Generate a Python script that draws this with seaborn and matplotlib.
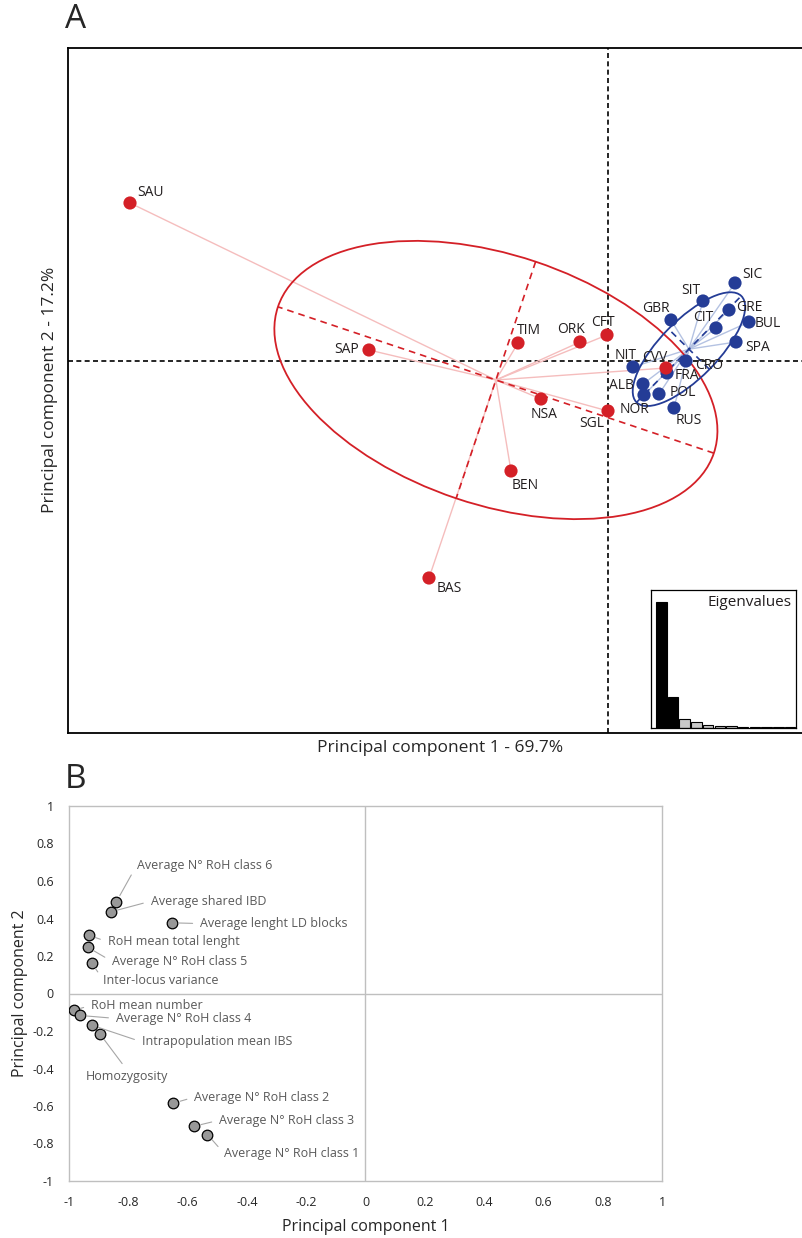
import numpy as np
import pandas as pd
import matplotlib.pyplot as plt
import seaborn as sns
from matplotlib.patches import Ellipse

# ---- panel A: population scores (PC1, PC2) ----
red_pops = ['SAU', 'SAP', 'TIM', 'ORK', 'CFT', 'NSA', 'SGL', 'BEN', 'BAS', 'CVV']
red_pc1 = [-4.78, -2.39, -0.90, -0.28, -0.01, -0.67, 0.00, -0.97, -1.79, 0.58]
red_pc2 = [1.58, 0.11, 0.18, 0.19, 0.26, -0.38, -0.50, -1.10, -2.17, -0.07]

blue_pops = ['SIC', 'SIT', 'GBR', 'CIT', 'GRE', 'BUL', 'SPA', 'NIT', 'CRO', 'FRA',
             'ALB', 'NOR', 'POL', 'RUS']
blue_pc1 = [1.27, 0.95, 0.63, 1.08, 1.21, 1.41, 1.28, 0.25, 0.78, 0.59, 0.35, 0.36, 0.51, 0.66]
blue_pc2 = [0.78, 0.60, 0.41, 0.33, 0.51, 0.39, 0.19, -0.06, 0.00, -0.12, -0.23, -0.34, -0.33, -0.47]

# eigenvalues (% of variance)
eigen_pct = [69.7, 17.2, 4.6, 3.1, 1.7, 1.1, 0.9, 0.6, 0.4, 0.3, 0.2, 0.2]

# ---- panel B: variable loadings ----
var_names = ['Average N° RoH class 6', 'Average shared IBD', 'Average lenght LD blocks',
             'RoH mean total lenght', 'Average N° RoH class 5', 'Inter-locus variance',
             'RoH mean number', 'Average N° RoH class 4', 'Intrapopulation mean IBS',
             'Homozygosity', 'Average N° RoH class 2', 'Average N° RoH class 3',
             'Average N° RoH class 1']
load_pc1 = [-0.84, -0.86, -0.654, -0.934, -0.937, -0.924, -0.984, -0.963, -0.923, -0.895,
            -0.648, -0.578, -0.533]
load_pc2 = [0.49, 0.435, 0.377, 0.311, 0.247, 0.164, -0.089, -0.117, -0.169, -0.217,
            -0.585, -0.708, -0.752]

# label placement (ha, dx px, dy px downwards)
pop_label_pos = {
    'SAU': ('left', 7, -10), 'SAP': ('right', -10, 0), 'TIM': ('left', -1, -12),
    'ORK': ('center', -9, -12), 'CFT': ('center', -4, -12), 'NSA': ('center', 3, 16),
    'SGL': ('right', -4, 13), 'BEN': ('left', 1, 15), 'BAS': ('left', 8, 11),
    'CVV': ('right', 1, -10), 'SIC': ('left', 7, -8), 'SIT': ('right', -3, -10),
    'GBR': ('right', -1, -11), 'CIT': ('right', -3, -10), 'GRE': ('left', 7, -2),
    'BUL': ('left', 6, 2), 'SPA': ('left', 9, 6), 'NIT': ('right', 4, -11),
    'CRO': ('left', 9, 5), 'FRA': ('left', 8, 3), 'ALB': ('right', -9, 2),
    'NOR': ('center', -9, 15), 'POL': ('left', 11, -1), 'RUS': ('left', 2, 13),
}
# text left edge (x, y) in data units and the side the leader line attaches to
var_label_pos = [(-0.772, 0.683, (0, 0.5)), (-0.725, 0.492, (0, 0.5)), (-0.558, 0.373, (0, 0.5)),
                 (-0.87, 0.276, (0, 0.5)), (-0.856, 0.172, (0, 0.5)), (-0.884, 0.071, (0, 0.5)),
                 (-0.926, -0.064, (0, 0.5)), (-0.842, -0.133, (0, 0.5)), (-0.755, -0.258, (0, 0.5)),
                 (-0.943, -0.409, (0.5, 1)), (-0.578, -0.553, (0, 0.5)), (-0.494, -0.676, (0, 0.5)),
                 (-0.477, -0.853, (0, 0.5))]

RED = '#D42027'
BLUE = '#243C96'

sns.set_style('white')
plt.rcParams['font.family'] = ['Open Sans', 'DejaVu Sans']

fig = plt.figure(figsize=(8.03, 12.38), dpi=100)


def draw_class(ax, x, y, color, star_color):
    x = np.asarray(x)
    y = np.asarray(y)
    cx, cy = x.mean(), y.mean()
    for xi, yi in zip(x, y):
        ax.plot([cx, xi], [cy, yi], color=star_color, lw=1, zorder=1)
    cov = np.cov(np.vstack([x, y]), bias=True)
    vals, vecs = np.linalg.eigh(cov)
    order = vals.argsort()[::-1]
    vals, vecs = vals[order], vecs[:, order]
    half = 1.5 * np.sqrt(vals)
    angle = np.degrees(np.arctan2(vecs[1, 0], vecs[0, 0]))
    ax.add_patch(Ellipse((cx, cy), 2 * half[0], 2 * half[1], angle=angle, fill=False,
                         ec=color, lw=1.3, zorder=2))
    for k in range(2):
        dx, dy = vecs[:, k] * half[k]
        ax.plot([cx - dx, cx + dx], [cy - dy, cy + dy], color=color, lw=1.2,
                ls=(0, (4, 3)), zorder=2)


# ---------------- panel A ----------------
ax = fig.add_axes([68 / 803, 1 - 733 / 1238, 735 / 803, 685 / 1238])
df = pd.concat([
    pd.DataFrame({'pop': blue_pops, 'pc1': blue_pc1, 'pc2': blue_pc2, 'group': 'blue'}),
    pd.DataFrame({'pop': red_pops, 'pc1': red_pc1, 'pc2': red_pc2, 'group': 'red'}),
], ignore_index=True)

ax.axvline(0, color='black', lw=1.2, ls=(0, (3, 2)), zorder=0)
ax.axhline(0, color='black', lw=1.2, ls=(0, (3, 2)), zorder=0)
draw_class(ax, red_pc1, red_pc2, RED, '#F5BDBD')
draw_class(ax, blue_pc1, blue_pc2, BLUE, '#B4C2E2')
sns.scatterplot(data=df, x='pc1', y='pc2', hue='group', palette={'red': RED, 'blue': BLUE},
                s=90, edgecolor='none', legend=False, ax=ax, zorder=3)
for _, row in df.iterrows():
    ha, dx, dy = pop_label_pos[row['pop']]
    ax.annotate(row['pop'], (row['pc1'], row['pc2']), xytext=(dx, -dy),
                textcoords='offset pixels', ha=ha, va='center', fontsize=10,
                color='#231F20', zorder=4)

ax.set_xlim(-5.40, 1.95)
ax.set_ylim(-3.72, 3.13)
ax.set_xticks([])
ax.set_yticks([])
ax.set_xlabel('')
ax.set_ylabel('')
for side in ['left', 'top', 'bottom']:
    ax.spines[side].set_color('black')
    ax.spines[side].set_linewidth(1.3)
ax.spines['right'].set_visible(False)
fig.text(440 / 803, 1 - 748 / 1238, 'Principal component 1 - 69.7%', ha='center',
         va='center', fontsize=12.5)
fig.text(50 / 803, 1 - 390 / 1238, 'Principal component 2 - 17.2%', ha='center',
         va='center', rotation=90, fontsize=12.5)
fig.text(65 / 803, 1 - 20 / 1238, 'A', ha='left', va='center', fontsize=24)

# eigenvalue inset
axi = fig.add_axes([651 / 803, 1 - 727.7 / 1238, 144.7 / 803, 137.7 / 1238])
eig_df = pd.DataFrame({'axis': [str(i + 1) for i in range(len(eigen_pct))], 'pct': eigen_pct})
bar_cols = ['black', 'black'] + ['#C8C8C8'] * (len(eigen_pct) - 2)
sns.barplot(data=eig_df, x='axis', y='pct', hue='axis', palette=bar_cols, legend=False,
            edgecolor='black', linewidth=0.8, width=0.9, ax=axi)
axi.set_xlim(-0.88, 11.49)
axi.set_ylim(0, 76.6)
axi.set_xticks([])
axi.set_yticks([])
axi.set_xlabel('')
axi.set_ylabel('')
for s in axi.spines.values():
    s.set_color('black')
    s.set_linewidth(0.9)
axi.text(0.97, 0.91, 'Eigenvalues', transform=axi.transAxes, ha='right', va='center',
         fontsize=11, color='#231F20')

# ---------------- panel B ----------------
axb = fig.add_axes([69 / 803, 1 - 1181 / 1238, 593 / 803, 375 / 1238])
axb.axhline(0, color='#BFBFBF', lw=1, zorder=0)
axb.axvline(0, color='#BFBFBF', lw=1, zorder=0)
ld = pd.DataFrame({'var': var_names, 'pc1': load_pc1, 'pc2': load_pc2})
sns.scatterplot(data=ld, x='pc1', y='pc2', s=58, color='#989898', edgecolor='black',
                linewidth=0.9, legend=False, ax=axb, zorder=3)
for (name, px, py), (tx, ty, rel) in zip(zip(var_names, load_pc1, load_pc2), var_label_pos):
    va = 'top' if rel[1] == 1 else 'center'
    axb.annotate(name, (px, py), xytext=(tx, ty), textcoords='data', ha='left',
                 va=va, fontsize=9, color='#595959',
                 arrowprops=dict(arrowstyle='-', color='#A6A6A6', lw=0.8, relpos=rel,
                                 shrinkA=3, shrinkB=5))
ticks = np.round(np.arange(-1, 1.01, 0.2), 1)
axb.set_xlim(-1, 1)
axb.set_ylim(-1, 1)
axb.set_xticks(ticks)
axb.set_yticks(ticks)
axb.set_xticklabels(['{:g}'.format(t + 0.0) for t in ticks])
axb.set_yticklabels(['{:g}'.format(t + 0.0) for t in ticks])
axb.tick_params(length=0, labelsize=9, colors='#262626', pad=11)
for s in axb.spines.values():
    s.set_color('#BFBFBF')
    s.set_linewidth(1)
axb.set_xlabel('Principal component 1', fontsize=11.5, color='#262626', labelpad=7)
axb.set_ylabel('Principal component 2', fontsize=11.5, color='#262626')
axb.yaxis.set_label_coords(-41 / 593, 0.5)
fig.text(65 / 803, 1 - 780 / 1238, 'B', ha='left', va='center', fontsize=24)

fig.savefig('out.png', dpi=100)
